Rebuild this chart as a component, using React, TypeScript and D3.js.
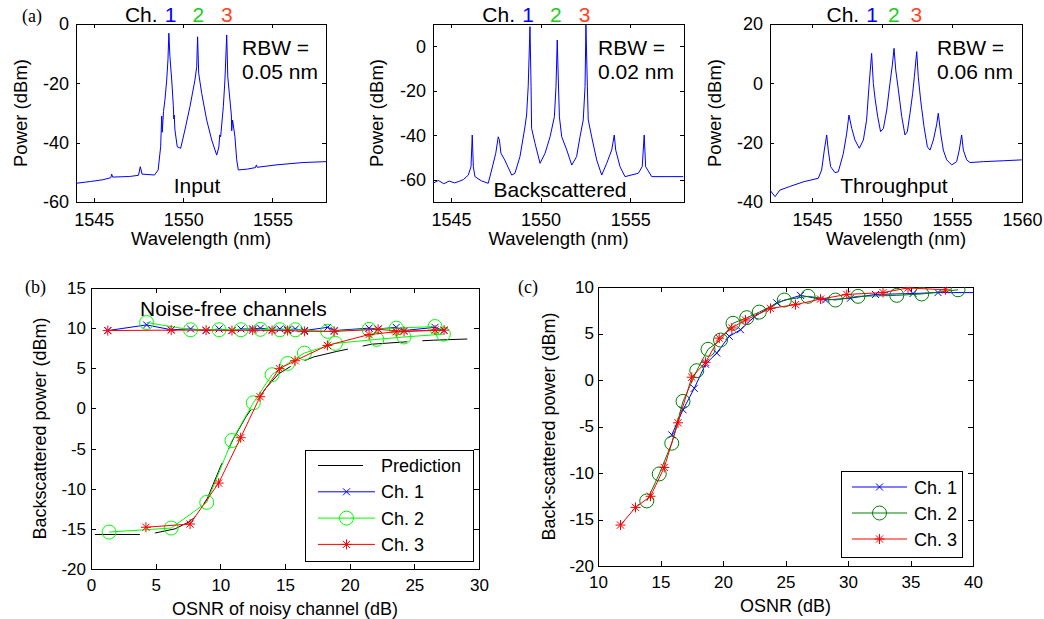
import React, { useEffect, useRef } from 'react';
import * as d3 from 'd3';

// ---------- (a) spectra, [wavelength (nm), power (dBm)] ----------
const inputSpectrum: [number, number][] = [
  [1544.0, -53.7], [1544.8, -53.1], [1545.5, -52.5], [1545.95, -51.8], [1546.0, -50.6], [1546.05, -51.6],
  [1547.0, -51.4], [1547.5, -51.0], [1547.6, -48.1], [1547.7, -50.6], [1548.4, -50.9], [1548.6, -49.2],
  [1548.74, -41.4], [1548.8, -31.0], [1548.83, -36.5], [1548.9, -29.5], [1548.98, -25.6], [1549.08, -18.9],
  [1549.15, -12.1], [1549.2, -3.1], [1549.26, -11.0], [1549.36, -18.9], [1549.45, -27.5], [1549.48, -32.0],
  [1549.5, -30.7], [1549.54, -35.7], [1549.67, -41.4], [1549.86, -41.9], [1550.1, -35.7], [1550.38, -27.9],
  [1550.66, -18.9], [1550.76, -14.4], [1550.81, -4.3], [1550.87, -16.6], [1551.04, -23.4], [1551.32, -32.4],
  [1551.6, -39.1], [1551.88, -44.2], [1552.0, -41.5], [1552.05, -37.4], [1552.1, -38.0], [1552.25, -27.9],
  [1552.34, -18.9], [1552.44, -3.7], [1552.5, -17.8], [1552.62, -25.6], [1552.7, -30.7], [1552.72, -36.0],
  [1552.77, -32.4], [1552.9, -38.0], [1553.0, -45.8], [1553.09, -49.2], [1553.6, -48.9], [1554.05, -48.4],
  [1554.1, -47.5], [1554.15, -48.3], [1555.2, -47.5], [1556.7, -46.7], [1558.0, -46.4],
];

const backscatteredSpectrum: [number, number][] = [
  [1544.0, -61.6], [1544.3, -60.3], [1544.6, -61.8], [1544.9, -60.6], [1545.2, -61.4], [1545.4, -60.9],
  [1545.7, -59.9], [1545.97, -57.9], [1546.12, -54.1], [1546.19, -39.9], [1546.25, -54.1], [1546.34, -58.6],
  [1546.7, -60.5], [1547.08, -61.6], [1547.27, -55.6], [1547.5, -48.1], [1547.64, -40.7], [1547.7, -42.0],
  [1547.79, -48.1], [1548.0, -51.1], [1548.39, -57.9], [1548.57, -57.1], [1548.85, -49.6], [1549.13, -36.2],
  [1549.22, -30.9], [1549.31, -18.2], [1549.41, 8.8], [1549.47, -18.2], [1549.5, -36.9], [1549.69, -43.6],
  [1549.97, -52.6], [1550.25, -48.1], [1550.53, -40.7], [1550.77, -31.7], [1550.86, -18.2], [1550.93, 2.8],
  [1550.99, -15.2], [1551.05, -31.7], [1551.18, -40.7], [1551.46, -46.6], [1551.74, -53.4], [1552.01, -49.6],
  [1552.2, -40.7], [1552.38, -33.1], [1552.48, -18.2], [1552.53, 9.5], [1552.61, -18.2], [1552.66, -33.1],
  [1552.85, -40.7], [1553.13, -51.1], [1553.41, -57.9], [1553.69, -52.6], [1553.97, -46.6], [1554.11, -39.9],
  [1554.19, -46.6], [1554.43, -54.1], [1554.71, -58.6], [1555.1, -57.8], [1555.45, -57.1], [1555.67, -54.1],
  [1555.78, -39.9], [1555.86, -54.1], [1556.2, -58.6], [1556.94, -58.6], [1557.96, -58.6],
];

const throughputSpectrum: [number, number][] = [
  [1542.0, -36.0], [1542.36, -38.2], [1542.7, -36.0], [1543.4, -34.8], [1544.38, -33.2], [1545.45, -32.0],
  [1545.69, -29.2], [1545.88, -22.5], [1546.05, -17.4], [1546.16, -22.5], [1546.33, -28.1], [1546.64, -30.1],
  [1546.88, -29.8], [1547.24, -23.6], [1547.48, -16.8], [1547.64, -10.7], [1547.84, -15.2], [1548.07, -19.1],
  [1548.38, -21.9], [1548.67, -19.1], [1548.9, -12.4], [1549.07, -1.1], [1549.26, 10.1], [1549.38, 0.0],
  [1549.5, -5.0], [1549.69, -11.2], [1549.9, -16.3], [1550.1, -15.2], [1550.34, -9.0], [1550.57, 0.0],
  [1550.74, 6.2], [1550.86, 11.8], [1550.98, 4.5], [1551.17, -2.2], [1551.41, -11.2], [1551.64, -17.4],
  [1551.81, -16.3], [1552.0, -10.1], [1552.19, -3.4], [1552.31, 2.2], [1552.48, 10.7], [1552.59, 2.2],
  [1552.76, -5.6], [1553.0, -14.6], [1553.24, -21.4], [1553.43, -22.5], [1553.67, -19.1], [1553.9, -14.0],
  [1554.02, -10.1], [1554.19, -16.8], [1554.38, -22.5], [1554.62, -25.8], [1554.98, -27.5], [1555.33, -26.4],
  [1555.52, -22.5], [1555.69, -17.4], [1555.81, -22.5], [1556.05, -25.8], [1556.29, -26.7], [1557.24, -26.4],
  [1558.67, -26.1], [1559.98, -25.8],
];

const channelNames = ['1', '2', '3'];
const channelPeaks = [1549.3, 1550.85, 1552.45];
const channelTextColors = ['#0000ff', '#22cc22', '#ff4422'];

// ---------- (b) OSNR of noisy channel (dB) vs backscattered power (dBm) ----------
const bPrediction: [number, number][] = [
  [0.3, -15.7], [4.0, -15.7], [5.0, -15.5], [6.5, -15.0], [7.5, -14.2], [8.0, -13.6], [9.0, -11.2],
  [10.0, -7.3], [11.0, -3.8], [12.0, -1.0], [12.6, 0.4], [13.5, 2.5], [14.5, 4.3], [15.5, 5.3],
  [17.2, 6.4], [19.0, 7.1], [20.5, 7.6], [21.7, 8.0], [25.3, 8.4], [26.5, 8.5], [30.0, 8.7],
];
const bCh1Free: [number, number][] = [
  [1.3, 9.7], [4.3, 10.4], [6.2, 9.8], [7.7, 9.9], [8.9, 9.7], [9.9, 9.9], [10.9, 9.7], [11.6, 9.9],
  [12.5, 9.9], [13.1, 10.0], [14.0, 9.8], [14.6, 9.9], [15.2, 9.8], [15.8, 9.9], [16.5, 9.7], [18.3, 10.1],
  [18.8, 9.7], [21.5, 10.0], [22.2, 9.9], [23.6, 10.1], [24.2, 9.7], [26.6, 10.1], [27.3, 9.7],
];
const bCh2Free: [number, number][] = [
  [4.3, 10.7], [7.7, 9.8], [9.9, 9.8], [11.6, 9.8], [13.1, 9.85], [14.6, 9.8], [15.8, 9.8], [18.3, 9.6],
  [21.5, 9.85], [23.6, 10.0], [26.6, 10.2],
];
const bCh3Free: [number, number][] = [
  [1.3, 9.7], [6.2, 9.75], [8.9, 9.75], [10.9, 9.7], [12.5, 9.75], [14.0, 9.7], [15.2, 9.7], [16.5, 9.6],
  [18.8, 9.6], [22.2, 9.85], [24.2, 9.6], [27.3, 9.75],
];
const bCh2Noisy: [number, number][] = [
  [1.4, -15.4], [6.2, -14.9], [8.95, -11.7], [10.9, -4.0], [12.55, 0.7], [14.0, 4.2], [15.2, 5.6],
  [16.5, 6.9], [18.9, 8.1], [22.1, 8.6], [24.2, 8.9], [27.25, 9.25],
];
const bCh3Noisy: [number, number][] = [
  [4.25, -14.8], [7.66, -14.4], [9.87, -9.3], [11.57, -3.65], [13.07, 1.46], [14.57, 4.95], [15.78, 5.94],
  [18.28, 7.85], [21.5, 9.2], [23.6, 9.55], [26.6, 9.76],
];

// ---------- (c) OSNR (dB) vs back-scattered power (dBm) ----------
const cCh1: [number, number][] = [
  [15.9, -5.9], [16.8, -3.2], [17.7, -0.9], [18.6, 1.7], [19.5, 2.9], [20.5, 4.7], [21.4, 5.4], [22.5, 6.8],
  [24.3, 8.3], [26.2, 9.1], [28.2, 8.6], [30.2, 8.8], [32.2, 9.2], [35.2, 9.3], [37.2, 9.4], [40.5, 9.4],
];
const cCh2: [number, number][] = [
  [13.9, -13.0], [14.9, -10.1], [15.9, -6.8], [16.8, -2.3], [17.9, 1.0], [18.8, 3.3], [19.8, 4.3], [20.8, 6.1],
  [21.9, 6.7], [22.9, 7.3], [24.9, 8.6], [26.8, 9.0], [29.0, 8.6], [30.8, 9.0], [33.9, 9.1], [35.9, 9.25], [38.8, 9.7],
];
const cCh3: [number, number][] = [
  [11.8, -15.6], [13.0, -13.7], [14.2, -12.5], [15.3, -9.4], [16.4, -4.6], [17.5, 0.3], [18.6, 1.9], [19.7, 4.5],
  [20.7, 5.6], [21.8, 6.45], [23.8, 7.7], [25.8, 8.1], [27.8, 8.7], [29.9, 9.2], [32.8, 9.4], [34.8, 9.9], [37.8, 9.7],
];

const legendB = ['Prediction', 'Ch. 1', 'Ch. 2', 'Ch. 3'];
const legendC = ['Ch. 1', 'Ch. 2', 'Ch. 3'];

const FONT = '"Liberation Sans", Arial, Helvetica, sans-serif';
const SERIF = '"Liberation Serif", "Times New Roman", serif';
const NOTE = 21; // in-plot annotation size

const markerPath: { [k: string]: string } = {
  x: 'M-3.5,-3.5L3.5,3.5M-3.5,3.5L3.5,-3.5',
  star: 'M0,-5V5M-5,0H5M-3.6,-3.6L3.6,3.6M-3.6,3.6L3.6,-3.6',
};

function frame(svg: any, p: any) {
  const x = d3.scaleLinear().domain(p.xDomain).range([p.left, p.left + p.width]);
  const y = d3.scaleLinear().domain(p.yDomain).range([p.top + p.height, p.top]);
  const tl = p.tickLen;
  const g = svg.append('g');
  const noLabel = () => '';

  const style = (sel: any) => {
    sel.select('.domain').remove();
    sel.attr('font-size', p.tickFont).attr('font-family', FONT);
    sel.selectAll('line').attr('shape-rendering', 'crispEdges');
    sel.selectAll('text').attr('fill', '#000');
  };

  g.append('g').attr('transform', `translate(0,${p.top + p.height})`)
    .call(d3.axisBottom(x).tickValues(p.xTicks).tickSize(-tl).tickSizeOuter(0).tickPadding(p.xPad).tickFormat(d3.format('d')))
    .call(style);
  g.append('g').attr('transform', `translate(0,${p.top})`)
    .call(d3.axisTop(x).tickValues(p.xTicks).tickSize(-tl).tickSizeOuter(0).tickFormat(noLabel))
    .call(style);
  g.append('g').attr('transform', `translate(${p.left},0)`)
    .call(d3.axisLeft(y).tickValues(p.yTicks).tickSize(-tl).tickSizeOuter(0).tickPadding(p.yPad).tickFormat((d: any) => String(d)))
    .call(style);
  g.append('g').attr('transform', `translate(${p.left + p.width},0)`)
    .call(d3.axisRight(y).tickValues(p.yTicks).tickSize(-tl).tickSizeOuter(0).tickFormat(noLabel))
    .call(style);

  g.append('rect')
    .attr('x', p.left).attr('y', p.top)
    .attr('width', p.width).attr('height', p.height)
    .attr('fill', 'none').attr('stroke', '#000').attr('stroke-width', 1)
    .attr('shape-rendering', 'crispEdges');

  svg.append('text')
    .attr('x', p.left + p.width / 2).attr('y', p.xLabelY)
    .attr('text-anchor', 'middle')
    .attr('font-family', FONT).attr('font-size', p.labelFont)
    .text(p.xLabel);
  svg.append('text')
    .attr('transform', `translate(${p.yLabelX},${p.top + p.height / 2}) rotate(-90)`)
    .attr('text-anchor', 'middle')
    .attr('font-family', FONT).attr('font-size', p.labelFont)
    .text(p.yLabel);

  const clipId = `clip-${p.id}`;
  svg.append('clipPath').attr('id', clipId).append('rect')
    .attr('x', p.left).attr('y', p.top).attr('width', p.width).attr('height', p.height);
  const plot = svg.append('g').attr('clip-path', `url(#${clipId})`);
  return { x, y, plot };
}

function series(plot: any, x: any, y: any, data: [number, number][], color: string, marker: string | null, dash?: string) {
  const line = d3.line<[number, number]>().x((d) => x(d[0])).y((d) => y(d[1]));
  plot.append('path')
    .attr('d', line(data))
    .attr('fill', 'none')
    .attr('stroke', color)
    .attr('stroke-width', 1)
    .attr('stroke-dasharray', dash || null);
  if (!marker) return;
  const m = plot.append('g');
  data.forEach((d) => drawMarker(m, x(d[0]), y(d[1]), color, marker));
}

function drawMarker(g: any, cx: number, cy: number, color: string, marker: string) {
  if (marker === 'o') {
    g.append('circle').attr('cx', cx).attr('cy', cy).attr('r', 7)
      .attr('fill', 'none').attr('stroke', color).attr('stroke-width', 1);
  } else {
    g.append('path').attr('transform', `translate(${cx},${cy})`)
      .attr('d', markerPath[marker]).attr('fill', 'none')
      .attr('stroke', color).attr('stroke-width', 1);
  }
}

function legend(svg: any, box: any, names: string[], colors: string[], markers: (string | null)[], dashes: (string | null)[]) {
  const g = svg.append('g');
  g.append('rect')
    .attr('x', box.x).attr('y', box.y).attr('width', box.w).attr('height', box.h)
    .attr('fill', '#fff').attr('stroke', '#000').attr('stroke-width', 1)
    .attr('shape-rendering', 'crispEdges');
  names.forEach((name, i) => {
    const yy = box.firstY + i * box.step;
    g.append('line')
      .attr('x1', box.lineX1).attr('x2', box.lineX2).attr('y1', yy).attr('y2', yy)
      .attr('stroke', colors[i]).attr('stroke-width', 1)
      .attr('stroke-dasharray', dashes[i]);
    const mk = markers[i];
    if (mk) drawMarker(g, (box.lineX1 + box.lineX2) / 2, yy, colors[i], mk);
    g.append('text')
      .attr('x', box.textX).attr('y', yy + 6.5)
      .attr('font-family', FONT).attr('font-size', 18)
      .text(name);
  });
}

function spectrumPanel(svg: any, p: any, data: [number, number][], rbw: string, caption: string, captionY: number) {
  const { x, y, plot } = frame(svg, p);
  series(plot, x, y, data, '#0000ff', null);

  svg.append('text')
    .attr('x', x(channelPeaks[0]) - 13).attr('y', 22)
    .attr('text-anchor', 'end')
    .attr('font-family', FONT).attr('font-size', NOTE)
    .text('Ch.');
  channelNames.forEach((n, i) => {
    svg.append('text')
      .attr('x', x(channelPeaks[i])).attr('y', 22)
      .attr('text-anchor', 'middle')
      .attr('font-family', FONT).attr('font-size', NOTE)
      .attr('fill', channelTextColors[i])
      .text(n);
  });
  svg.append('text')
    .attr('x', p.left + p.rbwDx).attr('y', 55)
    .attr('font-family', FONT).attr('font-size', NOTE)
    .text('RBW =');
  svg.append('text')
    .attr('x', p.left + p.rbwDx).attr('y', 79)
    .attr('font-family', FONT).attr('font-size', NOTE)
    .text(rbw);
  svg.append('text')
    .attr('x', p.left + p.captionDx).attr('y', captionY)
    .attr('text-anchor', 'middle')
    .attr('font-family', FONT).attr('font-size', NOTE)
    .text(caption);
}

export default function App() {
  const ref = useRef<SVGSVGElement>(null);

  useEffect(() => {
    const svg = d3.select(ref.current);
    svg.selectAll('*').remove();

    const aCommon = {
      top: 24, height: 178, tickLen: 4, tickFont: 18, labelFont: 18.5, xPad: 11, yPad: 7,
      xLabel: 'Wavelength (nm)', yLabel: 'Power (dBm)', xLabelY: 245,
    };

    spectrumPanel(svg, {
      ...aCommon, id: 'a1', left: 76, width: 250, xDomain: [1544, 1558], yDomain: [-60, 0],
      xTicks: [1545, 1550, 1555], yTicks: [-60, -40, -20, 0], yLabelX: 27, rbwDx: 166, captionDx: 121,
    }, inputSpectrum, '0.05 nm', 'Input', 193);

    spectrumPanel(svg, {
      ...aCommon, id: 'a2', left: 433, width: 251, xDomain: [1544, 1558], yDomain: [-70, 10],
      xTicks: [1545, 1550, 1555], yTicks: [-60, -40, -20, 0], yLabelX: 383, rbwDx: 165, captionDx: 127,
    }, backscatteredSpectrum, '0.02 nm', 'Backscattered', 197);

    spectrumPanel(svg, {
      ...aCommon, id: 'a3', left: 770, width: 252, xDomain: [1542, 1560], yDomain: [-40, 20],
      xTicks: [1545, 1550, 1555, 1560], yTicks: [-40, -20, 0, 20], yLabelX: 721, rbwDx: 167, captionDx: 124,
    }, throughputSpectrum, '0.06 nm', 'Throughput', 193);

    svg.append('text').attr('x', 22).attr('y', 22)
      .attr('font-family', SERIF).attr('font-size', 18).text('(a)');

    // (b)
    const pb = {
      id: 'b', left: 91, top: 288, width: 388, height: 281, tickLen: 5, tickFont: 17, labelFont: 18,
      xPad: 10, yPad: 5, xDomain: [0, 30], yDomain: [-20, 15],
      xTicks: d3.range(0, 31, 5), yTicks: d3.range(-20, 16, 5),
      xLabel: 'OSNR of noisy channel (dB)', yLabel: 'Backscattered power (dBm)', xLabelY: 615, yLabelX: 46,
    };
    const fb = frame(svg, pb);
    series(fb.plot, fb.x, fb.y, bPrediction, '#000', null, '45,15');
    series(fb.plot, fb.x, fb.y, bCh1Free, '#0000ff', 'x');
    series(fb.plot, fb.x, fb.y, bCh2Free, '#00ff00', 'o');
    series(fb.plot, fb.x, fb.y, bCh2Noisy, '#00ff00', 'o');
    series(fb.plot, fb.x, fb.y, bCh3Free, '#ff0000', 'star');
    series(fb.plot, fb.x, fb.y, bCh3Noisy, '#ff0000', 'star');
    svg.append('text').attr('x', 140).attr('y', 316)
      .attr('font-family', FONT).attr('font-size', NOTE).text('Noise-free channels');
    legend(svg, { x: 305, y: 450, w: 168, h: 111, firstY: 465.5, step: 26.3, lineX1: 318, lineX2: 375, textX: 381 },
      legendB, ['#000', '#0000ff', '#00ff00', '#ff0000'], [null, 'x', 'o', 'star'], ['45,15', null, null, null]);
    svg.append('text').attr('x', 25).attr('y', 293)
      .attr('font-family', SERIF).attr('font-size', 18).text('(b)');

    // (c)
    const pc = {
      id: 'c', left: 598, top: 287, width: 375, height: 279, tickLen: 5, tickFont: 17, labelFont: 18,
      xPad: 10, yPad: 4, xDomain: [10, 40], yDomain: [-20, 10],
      xTicks: d3.range(10, 41, 5), yTicks: d3.range(-20, 11, 5),
      xLabel: 'OSNR (dB)', yLabel: 'Back-scattered power (dBm)', xLabelY: 612, yLabelX: 555,
    };
    const fc = frame(svg, pc);
    series(fc.plot, fc.x, fc.y, cCh1, '#0000ff', 'x');
    series(fc.plot, fc.x, fc.y, cCh2, '#008000', 'o');
    series(fc.plot, fc.x, fc.y, cCh3, '#ff0000', 'star');
    legend(svg, { x: 841, y: 471, w: 121, h: 86, firstY: 487, step: 26, lineX1: 852, lineX2: 907, textX: 914 },
      legendC, ['#0000ff', '#008000', '#ff0000'], ['x', 'o', 'star'], [null, null, null]);
    svg.append('text').attr('x', 518).attr('y', 293)
      .attr('font-family', SERIF).attr('font-size', 18).text('(c)');
  }, []);

  return (
    <svg
      ref={ref}
      width={1044}
      height={619}
      style={{ position: 'absolute', left: 0, top: 0, background: '#fff' }}
    />
  );
}
